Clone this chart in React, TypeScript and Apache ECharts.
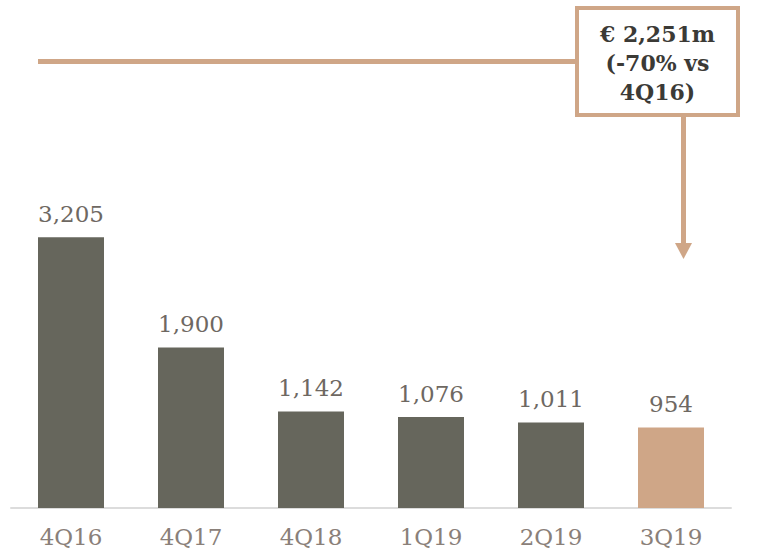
import React, { useEffect, useRef } from "react";
import * as echarts from "echarts";

const categories = ["4Q16", "4Q17", "4Q18", "1Q19", "2Q19", "3Q19"];
const values = [3205, 1900, 1142, 1076, 1011, 954];
const barColors = ["#66665c", "#66665c", "#66665c", "#66665c", "#66665c", "#cfa687"];
const annotationLines = ["€ 2,251m", "(-70% vs", "4Q16)"];

export default function App() {
  const ref = useRef<HTMLDivElement>(null);
  useEffect(() => {
    const chart = echarts.init(ref.current!, null, { renderer: "svg" });
    const tan = "#cfa687";
    chart.setOption({
      animation: false,
      backgroundColor: "#ffffff",
      grid: { left: 11, right: 29, top: 170, bottom: 46 },
      xAxis: {
        type: "category",
        data: categories,
        axisLine: { show: true, lineStyle: { color: "#dcdcdc", width: 2 } },
        axisTick: { show: false },
        axisLabel: {
          color: "#8a8079",
          fontFamily: "DejaVu Serif",
          fontSize: 23,
          margin: 17,
        },
      },
      yAxis: {
        type: "value",
        min: 0,
        max: 4000,
        show: false,
        splitLine: { show: false },
      },
      series: [
        {
          type: "bar",
          barWidth: "55%",
          data: values.map((v, i) => ({ value: v, itemStyle: { color: barColors[i] } })),
          label: {
            show: true,
            position: "top",
            distance: 12,
            color: "#6e6862",
            fontFamily: "DejaVu Serif",
            fontSize: 23,
            formatter: (p: any) => p.value.toLocaleString("en-US"),
          },
        },
      ],
      graphic: [
        {
          type: "line",
          shape: { x1: 38, y1: 61.5, x2: 577, y2: 61.5 },
          style: { stroke: tan, lineWidth: 5 },
        },
        {
          type: "rect",
          shape: { x: 577, y: 8, width: 161, height: 107 },
          style: { fill: "#ffffff", stroke: tan, lineWidth: 4 },
        },
        ...annotationLines.map((t, i) => ({
          type: "text",
          x: 657.5,
          y: 34 + i * 29,
          style: {
            text: t,
            fill: "#3b3a36",
            font: "bold 22px 'DejaVu Serif'",
            align: "center",
            verticalAlign: "middle",
          },
        })),
        {
          type: "line",
          shape: { x1: 683.5, y1: 117, x2: 683.5, y2: 244 },
          style: { stroke: tan, lineWidth: 5 },
        },
        {
          type: "polygon",
          shape: { points: [[675, 243], [692, 243], [683.5, 259]] },
          style: { fill: tan },
        },
      ],
    });
    return () => chart.dispose();
  }, []);
  return (
    <div
      ref={ref}
      style={{ position: "fixed", left: 0, top: 0, width: 760, height: 554 }}
    />
  );
}
